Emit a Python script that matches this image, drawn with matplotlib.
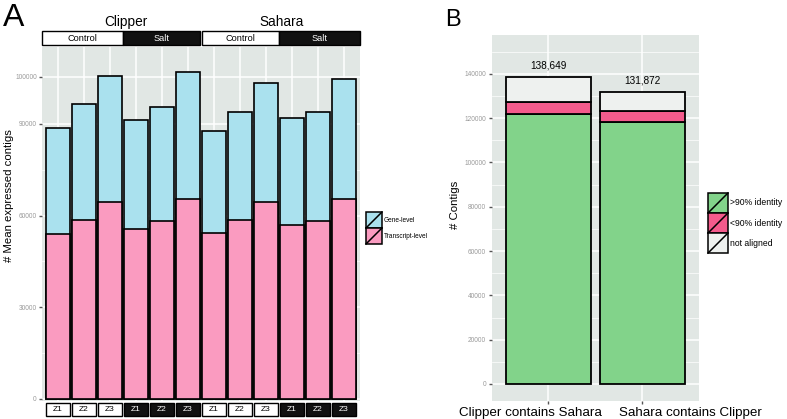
import matplotlib
matplotlib.use("Agg")
import matplotlib.pyplot as plt
import matplotlib.transforms as mtransforms
from matplotlib.patches import Rectangle, Patch
from matplotlib.lines import Line2D
from matplotlib.legend_handler import HandlerBase
import numpy as np

plt.rcParams['font.family'] = ['Liberation Sans', 'DejaVu Sans']

# ---------------- Data: panel A ----------------
cultivars = ['Clipper', 'Sahara']
treatments = ['Control', 'Salt']
zones = ['Z1', 'Z2', 'Z3']
gene_level = [88700, 96550, 105700, 91400, 95700, 107100,
              87700, 93900, 103300, 92100, 93800, 104800]
transcript_level = [54100, 58700, 64400, 55600, 58300, 65400,
                    54300, 58500, 64400, 57100, 58400, 65300]
a_tick_values = [0, 30000, 60000, 90000, 105400]
a_tick_labels = ['0', '30000', '60000', '90000', '100000']

# ---------------- Data: panel B ----------------
comparisons = ['Clipper contains Sahara', 'Sahara contains Clipper']
identity_gt90 = [121800, 118300]
identity_lt90 = [5500, 4950]
not_aligned = [11349, 8622]
totals = [138649, 131872]

# ---------------- Styles ----------------
PANEL_BG = '#e1e7e4'
BLUE = '#aae1ee'
PINK = '#fa9bc0'
GREEN = '#82d38a'
DPINK = '#f45b8c'
LIGHT = '#eef1ef'
TICKC = '#555555'
TICKLAB = '#999999'


class DiagHandler(HandlerBase):
    def create_artists(self, legend, orig_handle, xdescent, ydescent,
                       width, height, fontsize, trans):
        r = Rectangle((-xdescent, -ydescent), width, height,
                      facecolor=orig_handle.get_facecolor(),
                      edgecolor='black', lw=1.1, transform=trans)
        l = Line2D([-xdescent, -xdescent + width],
                   [-ydescent, -ydescent + height],
                   color='black', lw=1.1, transform=trans)
        return [r, l]


W, H = 787, 419
fig = plt.figure(figsize=(W / 100, H / 100), dpi=100)


def px_axes(x0, y0, x1, y1):
    return fig.add_axes([x0 / W, (H - y1) / H, (x1 - x0) / W, (y1 - y0) / H])


def style_axes(ax):
    ax.set_facecolor(PANEL_BG)
    for s in ax.spines.values():
        s.set_visible(False)
    ax.set_axisbelow(True)
    ax.grid(which='major', color='white', lw=1.1)
    ax.grid(which='minor', axis='y', color='white', lw=0.5)
    ax.tick_params(axis='y', which='major', length=2.5, width=1, color=TICKC,
                   labelsize=4.7, labelcolor=TICKLAB, pad=1.5)
    ax.tick_params(which='minor', length=0)


# ================= Panel A =================
axA = px_axes(42.4, 47, 359.6, 400.7)
style_axes(axA)
n = len(gene_level)
xs = np.arange(n)
axA.bar(xs, gene_level, width=0.9, color=BLUE, edgecolor='black', lw=1.2, zorder=2)
axA.bar(xs, transcript_level, width=0.9, color=PINK, edgecolor='black', lw=1.2, zorder=3)
axA.set_xlim(-0.6, n - 0.4)
axA.set_ylim(-560, 115200)
axA.set_xticks(xs)
axA.tick_params(axis='x', length=0, labelbottom=False)
axA.set_yticks(a_tick_values)
axA.set_yticklabels(a_tick_labels)
axA.set_yticks([15000, 45000, 75000], minor=True)
axA.set_ylabel('# Mean expressed contigs', fontsize=8.2)
axA.yaxis.set_label_coords((14 - 42.4) / 317.2, (400.7 - 196) / 353.7)

trA = mtransforms.blended_transform_factory(axA.transData, axA.transAxes)
# top strips (Control / Salt) and facet titles
k = 0
for ci, cv in enumerate(cultivars):
    for ti, tr in enumerate(treatments):
        x0 = k * 3 - 0.5
        x1 = k * 3 + 2.5
        if k == 0:
            x0 = -0.6
        if k == 3:
            x1 = n - 0.4
        if k == 1:
            x1 -= 0.03
        if k == 2:
            x0 += 0.03
        fc = 'white' if tr == 'Control' else '#111111'
        axA.add_patch(Rectangle((x0, 1.0057), x1 - x0, 0.039, transform=trA,
                                facecolor=fc, edgecolor='black', lw=1.0,
                                clip_on=False))
        axA.text((x0 + x1) / 2, 1.0057 + 0.0195, tr, transform=trA,
                 ha='center', va='center', fontsize=6.6,
                 color='black' if tr == 'Control' else 'white')
        k += 1
    axA.text(ci * 6 + 2.62, 1.072, cv, transform=trA, ha='center',
             va='center', fontsize=9.8)

# bottom strips (zones)
for i in range(n):
    tr = treatments[(i // 3) % 2]
    fc = 'white' if tr == 'Control' else '#111111'
    axA.add_patch(Rectangle((i - 0.455, -0.0433), 0.91, 0.0368, transform=trA,
                            facecolor=fc, edgecolor='black', lw=1.0,
                            clip_on=False))
    axA.text(i, -0.025, zones[i % 3], transform=trA, ha='center', va='center',
             fontsize=6, color='black' if tr == 'Control' else 'white')

legA = fig.legend(handles=[Patch(facecolor=BLUE), Patch(facecolor=PINK)],
                  labels=['Gene-level', 'Transcript-level'],
                  handler_map={Patch: DiagHandler()},
                  loc='upper left', bbox_to_anchor=(366 / W, (H - 212) / H),
                  frameon=False, fontsize=4.7, handlelength=2.45,
                  handleheight=3.39, labelspacing=0, handletextpad=0.3,
                  borderpad=0, borderaxespad=0)

# ================= Panel B =================
axB = px_axes(491.7, 35, 699, 400.7)
style_axes(axB)
xb = np.arange(len(comparisons))
b1 = np.array(identity_gt90)
b2 = np.array(identity_lt90)
b3 = np.array(not_aligned)
axB.bar(xb, b1, width=0.9, color=GREEN, edgecolor='black', lw=1.3, zorder=2)
axB.bar(xb, b2, bottom=b1, width=0.9, color=DPINK, edgecolor='black', lw=1.3, zorder=2)
axB.bar(xb, b3, bottom=b1 + b2, width=0.9, color=LIGHT, edgecolor='black', lw=1.3, zorder=2)
for x, t in zip(xb, totals):
    axB.annotate(f'{t:,}', (x, t), xytext=(0, 4.5), textcoords='offset points',
                 ha='center', va='bottom', fontsize=7.2)
axB.set_xlim(-0.6, len(comparisons) - 0.4)
axB.set_ylim(-7540, 157560)
axB.set_yticks(np.arange(0, 140001, 20000))
axB.set_yticks(np.arange(10000, 157000, 20000), minor=True)
axB.set_xticks(xb)
axB.set_xticklabels(comparisons, fontsize=9.6)
axB.tick_params(axis='x', which='major', length=2.5, width=1, color=TICKC, pad=2)
# labels in the reference sit off-centre from their ticks
for lab, dx in zip(axB.get_xticklabels(), [-18, 48]):
    lab.set_transform(lab.get_transform() +
                      mtransforms.ScaledTranslation(dx / 100, 0, fig.dpi_scale_trans))
axB.set_ylabel('# Contigs', fontsize=8.2)
axB.yaxis.set_label_coords((460 - 491.7) / 207.3, (400.7 - 205) / 365.7)

legB = fig.legend(handles=[Patch(facecolor=GREEN), Patch(facecolor=DPINK),
                           Patch(facecolor=LIGHT)],
                  labels=['>90% identity', '<90% identity', 'not aligned'],
                  handler_map={Patch: DiagHandler()},
                  loc='upper left', bbox_to_anchor=(708 / W, (H - 193) / H),
                  frameon=False, fontsize=6.2, handlelength=2.32,
                  handleheight=3.2, labelspacing=0, handletextpad=0.2,
                  borderpad=0, borderaxespad=0)

# panel letters
fig.text(3 / W, (H - 26) / H, 'A', fontsize=23, ha='left', va='baseline')
fig.text(445 / W, (H - 26) / H, 'B', fontsize=17, ha='left', va='baseline')

fig.savefig('out.png', dpi=100)
